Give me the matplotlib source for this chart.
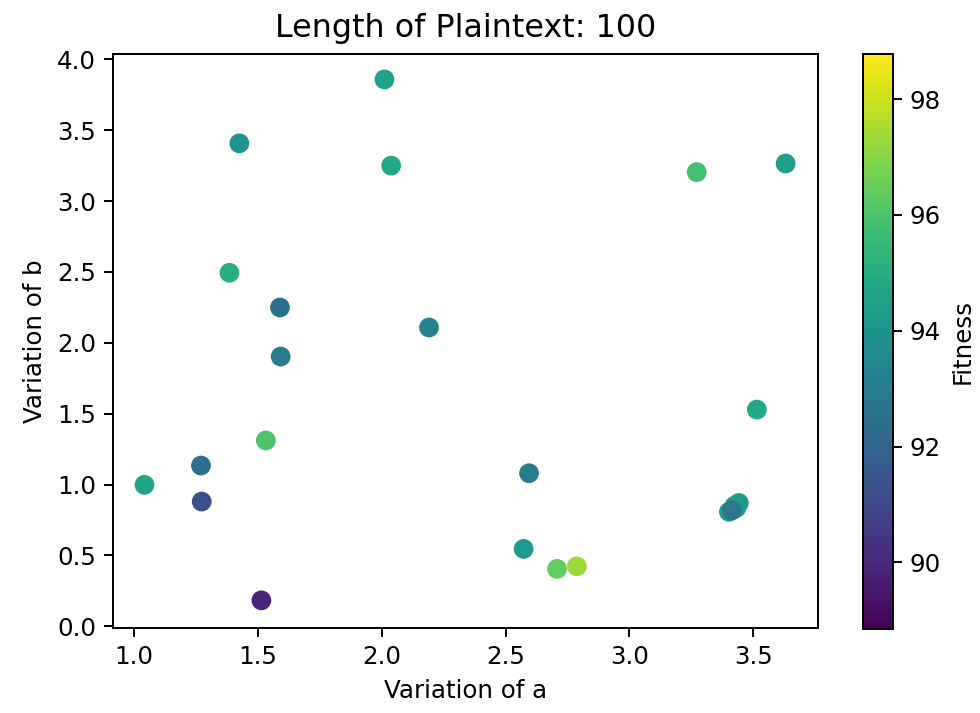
import matplotlib
matplotlib.use("Agg")
import matplotlib.pyplot as plt
import numpy as np

# ---- data ----
variation_a = [2.011, 1.425, 2.038, 1.385, 1.589, 2.191, 1.592,
               1.532, 1.270, 1.042, 1.273, 1.514,
               3.515, 2.595, 2.573, 2.708, 2.788,
               3.272, 3.631,
               3.442, 3.402, 3.425, 3.432, 3.414]
variation_b = [3.858, 3.407, 3.250, 2.494, 2.249, 2.108, 1.903,
               1.311, 1.134, 0.998, 0.880, 0.183,
               1.529, 1.080, 0.546, 0.405, 0.423,
               3.204, 3.265,
               0.870, 0.808, 0.850, 0.835, 0.818]
fitness = [94.6, 94.0, 94.8, 95.1, 92.6, 93.2, 93.0,
           96.0, 92.4, 94.7, 91.3, 89.9,
           94.8, 93.0, 94.2, 96.4, 97.3,
           95.8, 94.4,
           94.3, 94.3, 94.2, 94.3, 92.8]
fitness_min = 88.85
fitness_max = 98.78
x_limits = (0.916, 3.763)
y_limits = (-0.01, 4.037)
x_ticks = [1.0, 1.5, 2.0, 2.5, 3.0, 3.5]
y_ticks = [0.0, 0.5, 1.0, 1.5, 2.0, 2.5, 3.0, 3.5, 4.0]
cbar_ticks = [90, 92, 94, 96, 98]

DPI = 176
fig = plt.figure(figsize=(980 / DPI, 713 / DPI), dpi=DPI)
ax = fig.add_axes([0.1156, 0.1196, 0.7194, 0.8046])
cax = fig.add_axes([0.8809, 0.1178, 0.0300, 0.8065])

sc = ax.scatter(variation_a, variation_b, c=fitness, cmap="viridis",
                vmin=fitness_min, vmax=fitness_max, s=50)
ax.set_xlim(*x_limits)
ax.set_ylim(*y_limits)
ax.set_xticks(x_ticks)
ax.set_yticks(y_ticks)
ax.set_xlabel("Variation of a")
ax.set_ylabel("Variation of b")
ax.set_title("Length of Plaintext: 100", fontsize=13, pad=7)

cb = fig.colorbar(sc, cax=cax)
cb.set_ticks(cbar_ticks)
cb.set_label("Fitness")

fig.savefig("out.png", dpi=DPI)
